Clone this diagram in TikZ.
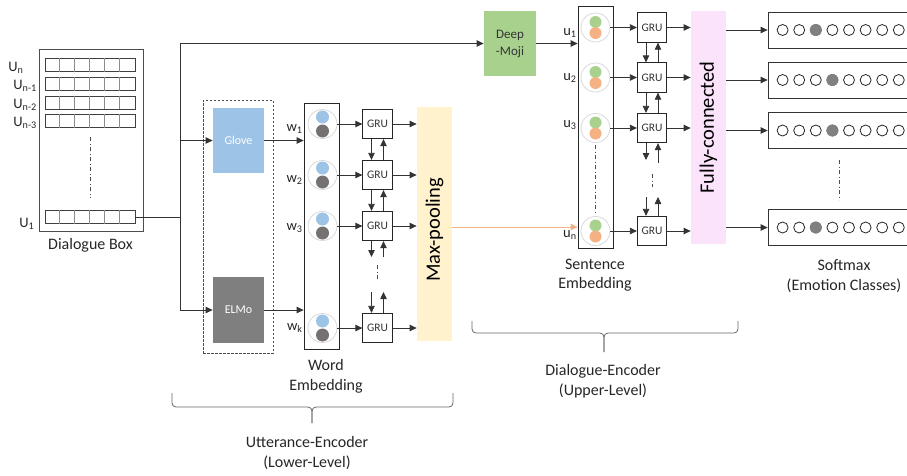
\documentclass[tikz,border=0pt]{standalone}
\usepackage{fontspec}
\setmainfont{Carlito}
\usetikzlibrary{arrows.meta,positioning}

\definecolor{glovecol}{HTML}{9DC3E6}
\definecolor{elmocol}{HTML}{7F7F7F}
\definecolor{mojicol}{HTML}{A9D18E}
\definecolor{poolcol}{HTML}{FFF2CC}
\definecolor{fccol}{HTML}{FBE3FB}
\definecolor{wblue}{HTML}{9DC3E6}
\definecolor{wgray}{HTML}{767171}
\definecolor{ugreen}{HTML}{A9D18E}
\definecolor{uorange}{HTML}{F4B183}
\definecolor{softgray}{HTML}{808080}

\begin{document}
\begin{tikzpicture}[
    x=1pt, y=-1pt,
    line width=0.8pt,
    arrowline/.style={draw=black!80,-{Triangle[length=7pt,width=6.5pt]}},
    plainline/.style={draw=black!80},
    orangeline/.style={draw=uorange,-{Triangle[length=7pt,width=6.5pt]}},
    dotline/.style={draw=black!70,dash pattern=on 4pt off 2.5pt on 1pt off 2.5pt},
    grubox/.style={draw=black!85,fill=white,minimum size=29.5pt,inner sep=0pt,text=black!80,font=\fontsize{11.5}{12}\selectfont},
    embcol/.style={draw=black!85,minimum width=35pt,inner sep=0pt},
    embcirc/.style={circle,draw=black!15,minimum size=29pt,inner sep=0pt},
    rowbox/.style={draw=black!75,minimum width=90pt,minimum height=13pt,inner sep=0pt},
    lbl/.style={text=black!85,font=\fontsize{16}{19.5}\selectfont,align=center},
    idx/.style={text=black!85,inner sep=0pt,font=\fontsize{14.5}{16}\selectfont},
    groupbrace/.style={draw=black!60,rounded corners=4pt},
    ]
    \useasboundingbox (0,0) rectangle (907,475);

    % dialogue box
    \node[draw=black!70,minimum width=104pt,minimum height=182pt] (dbox) at (91,140.5) {};
    \foreach \i/\y in {n/65,m/84,l/102.5,k/121,1/217}{
        \node[rowbox] (row\i) at (90,\y) {};
        \foreach \c in {1,...,5}
            \draw[black!45,line width=0.6pt] ([xshift={15*\c}]row\i.north west) -- ([xshift={15*\c}]row\i.south west);
    }
    \node[idx,anchor=base west] (lun) at (8,71) {U\textsubscript{n}};
    \node[idx,anchor=base west] (lunm) at (13,89) {U\textsubscript{n-1}};
    \node[idx,anchor=base west] (lunl) at (13,108) {U\textsubscript{n-2}};
    \node[idx,anchor=base west] (lunk) at (13,126) {U\textsubscript{n-3}};
    \node[idx,anchor=base west] (luone) at (19,227) {U\textsubscript{1}};
    \draw[dotline] (90,137) -- (90,198);
    \node[lbl] (dboxlbl) at (90.5,245) {Dialogue Box};

    % lexical encoders
    \node[draw=black!70,dash pattern=on 2.5pt off 1.5pt,minimum width=70pt,minimum height=253pt] (lexbox) at (238,226.5) {};
    \node[fill=glovecol,minimum width=51pt,minimum height=65pt,text=white,font=\fontsize{12}{14}\selectfont] (glove) at (238.5,140.5) {Glove};
    \node[fill=elmocol,minimum width=51pt,minimum height=66pt,text=white,font=\fontsize{12}{14}\selectfont] (elmo) at (238.5,310) {ELMo};
    \node[fill=mojicol,minimum width=52pt,minimum height=65pt,align=center,text=black!80,font=\fontsize{13}{17}\selectfont] (moji) at (510,43.5) {Deep\\-Moji};

    \coordinate (split) at (180,217);
    \draw[plainline] (row1.east) -- (split);
    \draw[arrowline] (split) |- (moji.west);
    \draw[arrowline] (split) |- (glove.west);
    \draw[arrowline] (split) |- (elmo.west);

    % utterance encoder
    \node[embcol,minimum height=246pt] (wordemb) at (321.5,226) {};
    \node[fill=poolcol,minimum width=35pt,minimum height=234pt,inner sep=0pt] (pool) at (434.5,224) {};
    \node[rotate=90,font=\fontsize{20.5}{22}\selectfont] (pooltxt) at ([yshift=-6pt]pool.center) {Max-pooling};
    \draw[arrowline] (glove.east) -- (glove.east -| wordemb.west);
    \draw[arrowline] (elmo.east) -- (elmo.east -| wordemb.west);
    \foreach \i/\y/\b in {1/124/131,2/175/182,3/226/230,k/328/330}{
        \node[embcirc] (wc\i) at (322.5,\y) {};
        \fill[wblue] ([yshift=7pt]wc\i.center) circle (6.5pt);
        \fill[wgray] ([yshift=-7pt]wc\i.center) circle (6.5pt);
        \node[idx,anchor=base east] (wl\i) at (303,\b) {w\textsubscript{\i}};
        \node[grubox] (wg\i) at (377.5,\y) {GRU};
        \draw[arrowline] (wc\i) -- (wg\i);
        \draw[arrowline] (wg\i.east) -- (wg\i.east -| pool.west);
    }
    \foreach \a/\b in {1/2,2/3}{
        \draw[arrowline] ([xshift=-6pt]wg\a.south) -- ([xshift=-6pt]wg\b.north);
        \draw[arrowline] ([xshift=6pt]wg\b.north) -- ([xshift=6pt]wg\a.south);
    }
    \coordinate (wgapdn) at (371.5,257);
    \coordinate (wgapup) at (383.5,257);
    \coordinate (wresdn) at (371.5,292);
    \coordinate (wresup) at (383.5,292);
    \draw[arrowline] ([xshift=-6pt]wg3.south) -- (wgapdn);
    \draw[arrowline] (wgapup) -- ([xshift=6pt]wg3.south);
    \draw[dotline] (377.5,265) -- (377.5,281);
    \draw[arrowline] (wresdn) -- ([xshift=-6pt]wgk.north);
    \draw[arrowline] ([xshift=6pt]wgk.north) -- (wresup);

    % dialogue encoder
    \node[embcol,minimum height=242pt] (sentemb) at (595.5,127) {};
    \node[fill=fccol,minimum width=35pt,minimum height=233pt,inner sep=0pt] (fc) at (708.5,127.5) {};
    \node[rotate=90,font=\fontsize{20.5}{22}\selectfont] (fctxt) at (fc.center) {Fully-connected};
    \draw[arrowline] (moji.east) -- (moji.east -| sentemb.west);
    \coordinate (poolout) at (452,227);
    \draw[orangeline] (poolout) -- (poolout -| sentemb.west);
    \foreach \i/\y/\b/\s in {1/27.5/35/1,2/77.5/80/2,3/128/127/3,4/231/237/n}{
        \node[embcirc] (uc\i) at (595.5,\y) {};
        \fill[ugreen] ([yshift=5.5pt]uc\i.center) circle (6pt);
        \fill[uorange] ([yshift=-5.5pt]uc\i.center) circle (6pt);
        \node[idx,anchor=base east] (ul\i) at (577,\b) {u\textsubscript{\s}};
        \node[grubox] (sg\i) at (652,\y) {GRU};
        \draw[arrowline] (uc\i) -- (sg\i);
        \draw[arrowline] (sg\i.east) -- (sg\i.east -| fc.west);
    }
    \draw[dotline] (595.5,145) -- (595.5,215);
    \foreach \a/\b in {1/2,2/3}{
        \draw[arrowline] ([xshift=-6pt]sg\a.south) -- ([xshift=-6pt]sg\b.north);
        \draw[arrowline] ([xshift=6pt]sg\b.north) -- ([xshift=6pt]sg\a.south);
    }
    \coordinate (sgapdn) at (646,160);
    \coordinate (sgapup) at (658,163);
    \coordinate (sresdn) at (646,197);
    \coordinate (sresup) at (658,197);
    \draw[arrowline] ([xshift=-6pt]sg3.south) -- (sgapdn);
    \draw[arrowline] (sgapup) -- ([xshift=6pt]sg3.south);
    \draw[dotline] (652,174) -- (652,187);
    \draw[arrowline] (sresdn) -- ([xshift=-6pt]sg4.north);
    \draw[arrowline] ([xshift=6pt]sg4.north) -- (sresup);

    % softmax outputs
    \foreach \r/\f/\y in {1/2/30,2/3/80,3/3/130.5,4/2/227.5}{
        \node[draw=black!80,minimum width=150pt,minimum height=36pt,inner sep=0pt] (sm\r) at (843,\y) {};
        \foreach \k in {0,...,7}
            \draw[black!85] ([xshift={15+16.6*\k}]sm\r.west) circle (5.5pt);
        \fill[softgray] ([xshift={15+16.6*\f}]sm\r.west) circle (6pt);
        \draw[arrowline] (sm\r.west -| fc.east) -- (sm\r.west);
    }
    \draw[dotline] (839,160) -- (839,200);

    \node[lbl] (sentlbl) at (595,275) {Sentence\\Embedding};
    \node[lbl] (wordlbl) at (326,376.5) {Word\\Embedding};
    \node[lbl] (smlbl) at (844,276) {Softmax\\(Emotion Classes)};

    % encoder braces
    \draw[groupbrace] (172,393) -- (172,407) -- (312,407) -- (312,423);
    \draw[groupbrace] (453,393) -- (453,407) -- (312,407) -- (312,423);
    \draw[groupbrace] (472,321) -- (472,333) -- (604,333) -- (604,352);
    \draw[groupbrace] (738,321) -- (738,333) -- (604,333) -- (604,352);
    \node[lbl] (uttlbl) at (307,453) {Utterance-Encoder\\(Lower-Level)};
    \node[lbl] (diallbl) at (603,381) {Dialogue-Encoder\\(Upper-Level)};

\end{tikzpicture}
\end{document}
